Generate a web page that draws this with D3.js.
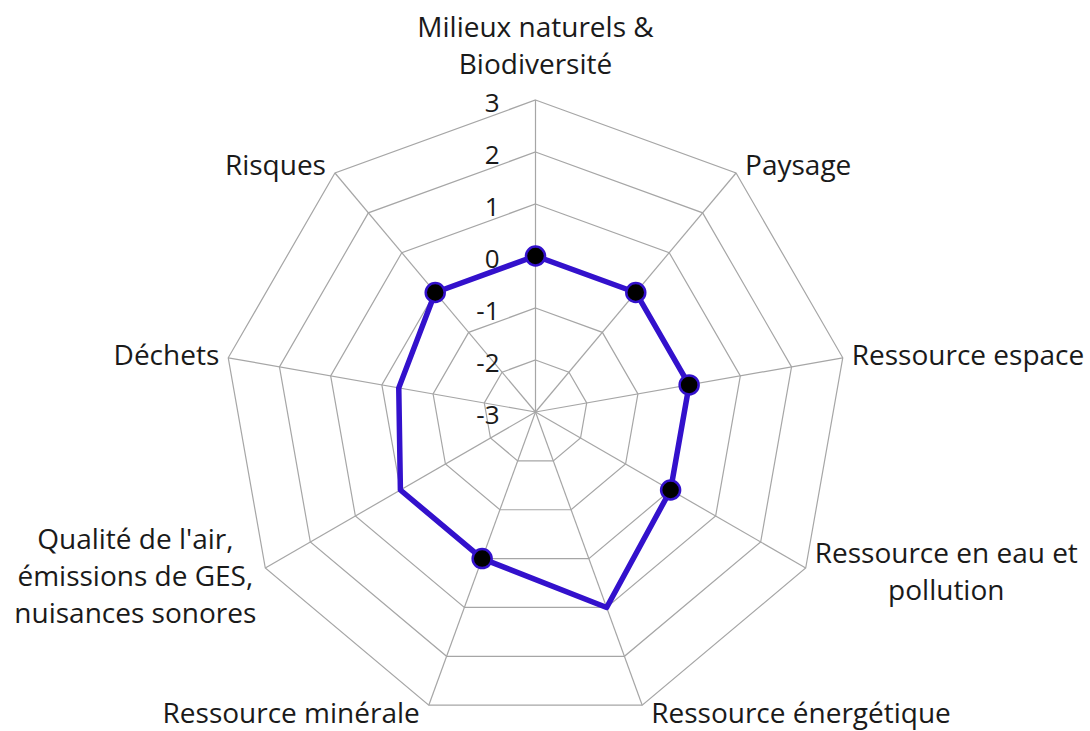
<!DOCTYPE html>
<html>
<head>
<meta charset="utf-8">
<script src="https://cdn.jsdelivr.net/npm/d3@7/dist/d3.min.js"></script>
<style>
  html, body { margin: 0; padding: 0; background: #fff; }
  svg { display: block; }
  text { font-family: "Open Sans", sans-serif; fill: #1a1a1a; }
</style>
</head>
<body>
<svg id="chart" width="1090" height="731"></svg>
<script>
// Axis names, clockwise from the top
const categories = [
  "Milieux naturels & Biodiversité",
  "Paysage",
  "Ressource espace",
  "Ressource en eau et pollution",
  "Ressource énergétique",
  "Ressource minérale",
  "Qualité de l'air, émissions de GES, nuisances sonores",
  "Déchets",
  "Risques"
];
// Wrapped lines for each axis label
const labelLines = [
  ["Milieux naturels &", "Biodiversité"],
  ["Paysage"],
  ["Ressource espace"],
  ["Ressource en eau et", "pollution"],
  ["Ressource énergétique"],
  ["Ressource minérale"],
  ["Qualité de l'air,", "émissions de GES,", "nuisances sonores"],
  ["Déchets"],
  ["Risques"]
];
// Score per axis (line)
const scores = [0, 0, 0, 0, 1, 0, 0, -0.33, 0];
// Points that carry a marker (null = no marker)
const markerScores = [0, 0, 0, 0, null, 0, null, null, 0];
// Radial tick values
const ticks = [-3, -2, -1, 0, 1, 2, 3];

const svg = d3.select("#chart");
const cx = 535.5, cy = 412, R = 312;
const n = categories.length;

const r = d3.scaleLinear().domain([-3, 3]).range([0, R]);
const angle = d3.scaleLinear().domain([0, n]).range([0, 2 * Math.PI]);

const g = svg.append("g").attr("transform", `translate(${cx},${cy})`);

const pt = (i, v) => {
  const a = angle(i);
  return [Math.sin(a) * r(v), -Math.cos(a) * r(v)];
};

// Grid rings
const ringLine = d3.lineRadial()
  .angle((d, i) => angle(i))
  .radius(d => r(d))
  .curve(d3.curveLinearClosed);

g.selectAll(".ring")
  .data(ticks.slice(1))
  .join("path")
  .attr("class", "ring")
  .attr("d", t => ringLine(d3.range(n).map(() => t)))
  .attr("fill", "none")
  .attr("stroke", "#a6a6a6")
  .attr("stroke-width", 1.2);

// Spokes
g.selectAll(".spoke")
  .data(d3.range(n))
  .join("line")
  .attr("class", "spoke")
  .attr("x1", 0).attr("y1", 0)
  .attr("x2", i => pt(i, 3)[0])
  .attr("y2", i => pt(i, 3)[1])
  .attr("stroke", "#a6a6a6")
  .attr("stroke-width", 1.2);

// Tick labels along the top axis
g.selectAll(".tick")
  .data(ticks)
  .join("text")
  .attr("class", "tick")
  .attr("x", -36)
  .attr("y", t => -r(t) + 2)
  .attr("text-anchor", "end")
  .attr("dominant-baseline", "central")
  .attr("font-size", 26)
  .text(t => t);

// Data line
const dataLine = d3.lineRadial()
  .angle((d, i) => angle(i))
  .radius(d => r(d))
  .curve(d3.curveLinearClosed);

g.append("path")
  .attr("d", dataLine(scores))
  .attr("fill", "none")
  .attr("stroke", "#3311cc")
  .attr("stroke-width", 5.5)
  .attr("stroke-linejoin", "round");

// Markers
g.selectAll(".marker")
  .data(markerScores.map((v, i) => ({ v, i })).filter(d => d.v !== null))
  .join("circle")
  .attr("class", "marker")
  .attr("cx", d => pt(d.i, d.v)[0])
  .attr("cy", d => pt(d.i, d.v)[1])
  .attr("r", 9.5)
  .attr("fill", "#000")
  .attr("stroke", "#3311cc")
  .attr("stroke-width", 2.5);

// Axis labels: single lines hug the vertex, wrapped blocks are centred lines
const lineH = 37;
const fs = 28;
labelLines.forEach((lines, i) => {
  const a = angle(i);
  const [vx, vy] = pt(i, 3);
  const s = Math.sin(a);
  const t = g.append("text").attr("font-size", fs);
  const spans = lines.map(ln => t.append("tspan").text(ln));
  const maxW = d3.max(spans, sp => sp.node().getComputedTextLength());
  let x, anchor, firstBaseline;
  if (Math.abs(s) < 0.1) {
    anchor = "middle";
    x = vx;
    firstBaseline = vy - 26 - (lines.length - 1) * lineH;
  } else {
    const side = s > 0 ? 1 : -1;
    const edge = vx + side * 9;
    const centerY = vy - 9 * Math.cos(a) + (lines.length > 2 ? 4 : 0);
    firstBaseline = centerY + 9 - (lines.length - 1) * lineH / 2;
    if (lines.length > 1) {
      anchor = "middle";
      x = edge + side * maxW / 2;
    } else {
      anchor = side > 0 ? "start" : "end";
      x = edge;
    }
  }
  t.attr("text-anchor", anchor);
  spans.forEach((sp, k) => {
    sp.attr("x", x).attr("y", firstBaseline + k * lineH);
  });
});
</script>
</body>
</html>
